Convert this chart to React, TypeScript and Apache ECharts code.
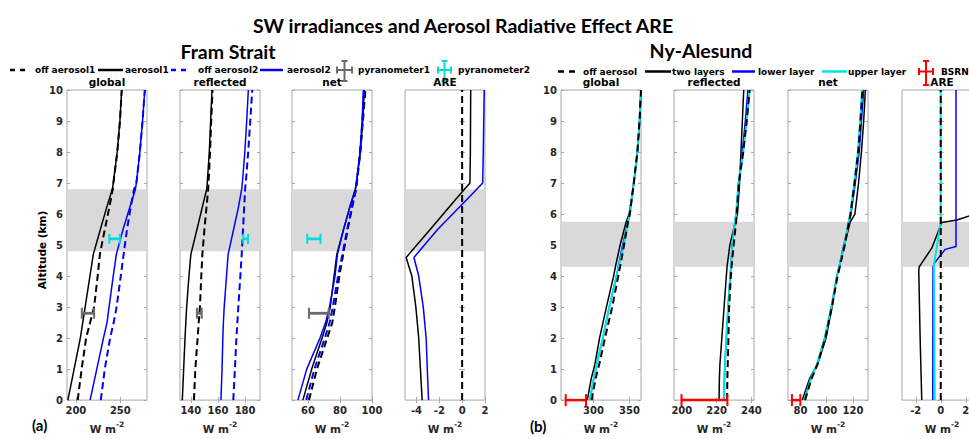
import React, { useEffect, useRef } from "react";
import * as echarts from "echarts";

// ---------- Fram Strait (a) ----------
const ALT_A = [0, 1, 2, 2.5, 3, 4, 4.7, 5.5, 6.2, 6.8, 7, 8, 9, 10];
const GLOBAL_A_AER1 = [191, 198, 205, 207.7, 210.4, 215.8, 219.6, 227.5, 234.5, 241, 242, 246.5, 249.5, 251.5];
const GLOBAL_A_OFF1 = [202, 206.5, 211.5, 216, 220.5, 224.5, 227, 232.5, 237.5, 241.5, 242.2, 246.6, 249.6, 251.6];
const GLOBAL_A_AER2 = [216, 223.5, 231, 235, 237.3, 242, 245.5, 253, 260.5, 267, 268, 272, 275, 277.5];
const GLOBAL_A_OFF2 = [228, 232.5, 238.5, 242.5, 245.8, 250.5, 253.7, 257.5, 261.5, 265.5, 268, 272, 275, 277.5];

const REFL_A_AER1 = [133.7, 134.7, 135.7, 136.3, 136.9, 138.6, 140, 144.5, 148.3, 151.7, 152.1, 153.6, 154.6, 155.6];
const REFL_A_OFF1 = [142.3, 143.3, 145, 145.8, 146.7, 147.7, 148.5, 150, 151.5, 152.8, 153, 154.2, 155, 156];
const REFL_A_AER2 = [162.2, 163, 163.6, 164, 164.6, 166.3, 167.5, 171.5, 175, 177.5, 178, 179.8, 181.2, 182.4];
const REFL_A_OFF2 = [171.3, 172.5, 173.6, 174.3, 175, 176.5, 177.5, 178.5, 179.3, 180, 180.5, 182.3, 183.8, 185.3];

const NET_A_AER1 = [56.8, 62.3, 68.8, 71.8, 73.9, 76.3, 78, 82.2, 86, 89.6, 90.2, 92.8, 94.2, 95.2];
const NET_A_OFF1 = [60.6, 65.6, 72, 75.2, 76.8, 79.6, 82, 84.8, 87.5, 90, 90.5, 92.6, 94.3, 95.9];
const NET_A_AER2 = [53.7, 59.2, 67.5, 71, 73.4, 76.9, 78.4, 82.2, 86, 89.6, 90.2, 92.5, 93.8, 94.6];
const NET_A_OFF2 = [58.9, 64, 70.5, 73.5, 75.5, 78.8, 81.5, 84.5, 87.3, 90, 90.5, 92.6, 94, 95];

const ALT_ARE_A = [0, 1, 2, 3, 4, 4.6, 5.5, 6.5, 7, 8, 10];
const ARE_A_AER1 = [-3.5, -3.65, -3.8, -4.05, -4.4, -4.9, -2.8, -0.5, 0.68, 0.72, 0.75];
const ARE_A_AER2 = [-2.94, -3.05, -3.15, -3.4, -3.8, -4.22, -2.15, 0.5, 1.8, 1.85, 1.93];
const ALT_ARE_OFF = [0, 10];
const ARE_OFF = [0, 0];

const PYRANO1_ALT = 2.8;
const PYRANO1_VALUE = [213.5, 146.3, 66.8];
const PYRANO1_LOW = [206.7, 144.5, 60.6];
const PYRANO1_HIGH = [220.5, 148, 73];
const PYRANO2_ALT = 5.2;
const PYRANO2_VALUE = [243.6, 180.4, 63.7];
const PYRANO2_LOW = [237.6, 178.6, 59.5];
const PYRANO2_HIGH = [249.5, 182.2, 67.8];

const BAND_A = [4.8, 6.8];

// ---------- Ny-Alesund (b) ----------
const ALT_B = [0, 0.7, 1.15, 2, 3, 4, 4.3, 5, 5.75, 6, 7, 8, 9, 10];
const GLOBAL_B_OFF = [297.5, 303, 308, 316, 326, 334.5, 337, 342.5, 348, 350.5, 356, 361, 364, 366];
const GLOBAL_B_TWO = [291.5, 297, 302, 308.5, 318, 328, 330.5, 337, 345.5, 349.5, 356, 361, 364, 366];
const GLOBAL_B_LOWER = [295, 300.5, 304.5, 313, 322, 332, 334.5, 340.5, 348, 350.5, 356, 361, 364, 366];
const GLOBAL_B_UPPER = [295, 300.5, 304.5, 313, 322, 332, 335, 342, 348, 350.5, 356, 361, 364, 366];

const REFL_B_OFF = [226, 226.2, 226.4, 226.8, 227.2, 228.2, 228.6, 229.8, 231.2, 231.6, 232.8, 235.3, 237.3, 239];
const REFL_B_TWO = [221.4, 221.6, 221.9, 223, 224.3, 225.6, 226, 227.6, 230.8, 232, 233.2, 234, 234.8, 235.6];
const REFL_B_LOWER = [224.1, 224.5, 224.8, 225.6, 226.6, 227.8, 228.2, 229, 230.5, 231.2, 232.6, 234.8, 236.5, 238];
const REFL_B_UPPER = [224.1, 224.5, 224.8, 225.6, 226.6, 227.8, 228.2, 229, 230.5, 231.2, 232.6, 235.3, 237.3, 239];

const NET_B_OFF = [83.5, 88.5, 93, 99, 104, 108.3, 110, 113.8, 117, 118.2, 121.2, 124, 125.8, 127.2];
const NET_B_TWO = [81.4, 87, 93, 99.5, 104, 107.8, 109.5, 113.5, 118, 121.5, 124.3, 126.5, 128.2, 129.5];
const NET_B_LOWER = [82.9, 88, 92.6, 98.5, 103.5, 107.8, 109.5, 113, 117.2, 118.5, 121.8, 124.8, 126.5, 128.2];
const NET_B_UPPER = [82.9, 88, 92.6, 98.5, 103.5, 107.8, 109.5, 113.5, 116.7, 118, 121, 123.8, 125.5, 127];

const ALT_ARE_B_TWO = [0, 2, 4.2, 4.3, 4.9, 5.73, 5.81, 5.94, 6.15, 10];
const ARE_B_TWO = [-1.52, -1.65, -1.76, -1.72, -0.72, 0.08, 1.3, 2.3, 4.5, 4.5];
const ALT_ARE_B_LOWER = [0, 4.3, 4.4, 4.86, 4.95, 10];
const ARE_B_LOWER = [-0.64, -0.62, -0.53, 0.35, 1.22, 1.22];
const ALT_ARE_B_UPPER = [0, 4.35, 5.73, 10];
const ARE_B_UPPER = [-0.48, -0.55, 0, 0];

const BSRN_ALT = 0;
const BSRN_VALUE = [275.6, 213, 76.7];
const BSRN_LOW = [261.5, 199.8, 73.5];
const BSRN_HIGH = [289.7, 226.2, 79.9];

const BAND_B = [4.3, 5.75];

// ---------- axes ----------
const X_RANGES = [
  [190, 280], [132, 191], [50, 100], [-5, 2],
  [255, 366], [195.5, 241.5], [70.5, 131.5], [-3.1, 3.3],
];
const X_TICKS = [
  [200, 250], [140, 160, 180], [60, 80, 100], [-4, -2, 0, 2],
  [300, 350], [200, 220, 240], [80, 100, 120], [-2, 0, 2],
];
const PANEL_TITLES = ["global", "reflected", "net", "ARE", "global", "reflected", "net", "ARE"];
const Y_TICKS_MAX = 10;

// ---------- styling ----------
const PANEL_LEFT = [67, 180, 292, 405, 561, 674, 788, 902];
const TOP = 90;
const PW = 80;
const PH = 320;
const FONT = "'DejaVu Sans', sans-serif";
const TFONT = "Lato, 'Open Sans', sans-serif";
const AX = "#a8a8a8";
const LBL = "#262626";
const BLACK = "#000000";
const BLUE = "#0000ff";
const CYAN = "#00e4e4";
const GREY = "#6b6b6b";
const RED = "#ff0000";
const DASH = [7, 4];

type LineDef = { name: string; alt: number[]; vals: number[]; color: string; dashed?: boolean; width?: number };
type ErrDef = { color: string; alt: number; value: number; low: number; high: number; cap: number; width: number };

function buildOption() {
  const la = (name: string, vals: number[], color: string, dashed = false, alt = ALT_A): LineDef => ({
    name, alt, vals, color, dashed, width: dashed ? 2 : 1.5,
  });
  const lb = (name: string, vals: number[], color: string, dashed = false, alt = ALT_B): LineDef => ({
    name, alt, vals, color, dashed, width: dashed ? 2 : color === CYAN ? 2 : 1.5,
  });
  const pyr = (k: number): ErrDef[] => [
    { color: GREY, alt: PYRANO1_ALT, value: PYRANO1_VALUE[k], low: PYRANO1_LOW[k], high: PYRANO1_HIGH[k], cap: 5.5, width: 2.8 },
    { color: "#00dcdc", alt: PYRANO2_ALT, value: PYRANO2_VALUE[k], low: PYRANO2_LOW[k], high: PYRANO2_HIGH[k], cap: 5, width: 2.8 },
  ];
  const bsrn = (k: number): ErrDef[] => [
    { color: RED, alt: BSRN_ALT, value: BSRN_VALUE[k], low: BSRN_LOW[k], high: BSRN_HIGH[k], cap: 6, width: 2.5 },
  ];

  const panelLines: LineDef[][] = [
    [la("aerosol1", GLOBAL_A_AER1, BLACK), la("aerosol2", GLOBAL_A_AER2, BLUE), la("off aerosol1", GLOBAL_A_OFF1, BLACK, true), la("off aerosol2", GLOBAL_A_OFF2, BLUE, true)],
    [la("aerosol1", REFL_A_AER1, BLACK), la("aerosol2", REFL_A_AER2, BLUE), la("off aerosol1", REFL_A_OFF1, BLACK, true), la("off aerosol2", REFL_A_OFF2, BLUE, true)],
    [la("aerosol1", NET_A_AER1, BLACK), la("aerosol2", NET_A_AER2, BLUE), la("off aerosol1", NET_A_OFF1, BLACK, true), la("off aerosol2", NET_A_OFF2, BLUE, true)],
    [la("aerosol1", ARE_A_AER1, BLACK, false, ALT_ARE_A), la("aerosol2", ARE_A_AER2, BLUE, false, ALT_ARE_A), la("off aerosol1", ARE_OFF, BLACK, true, ALT_ARE_OFF)],
    [lb("two layers", GLOBAL_B_TWO, BLACK), lb("lower layer", GLOBAL_B_LOWER, BLUE), lb("upper layer", GLOBAL_B_UPPER, CYAN), lb("off aerosol", GLOBAL_B_OFF, BLACK, true)],
    [lb("two layers", REFL_B_TWO, BLACK), lb("lower layer", REFL_B_LOWER, BLUE), lb("upper layer", REFL_B_UPPER, CYAN), lb("off aerosol", REFL_B_OFF, BLACK, true)],
    [lb("two layers", NET_B_TWO, BLACK), lb("lower layer", NET_B_LOWER, BLUE), lb("upper layer", NET_B_UPPER, CYAN), lb("off aerosol", NET_B_OFF, BLACK, true)],
    [lb("two layers", ARE_B_TWO, BLACK, false, ALT_ARE_B_TWO), lb("lower layer", ARE_B_LOWER, BLUE, false, ALT_ARE_B_LOWER), lb("upper layer", ARE_B_UPPER, CYAN, false, ALT_ARE_B_UPPER), lb("off aerosol", ARE_OFF, BLACK, true, ALT_ARE_OFF)],
  ];
  const panelErrs: ErrDef[][] = [pyr(0), pyr(1), pyr(2), [], bsrn(0), bsrn(1), bsrn(2), []];
  const bands = [BAND_A, BAND_A, BAND_A, BAND_A, BAND_B, BAND_B, BAND_B, BAND_B];

  const grid: any[] = [];
  const xAxis: any[] = [];
  const yAxis: any[] = [];
  const series: any[] = [];
  const tickStyle = { show: true, inside: true, length: 3, lineStyle: { color: AX, width: 1 } };
  const labelStyle = { fontSize: 10, fontWeight: "bold", color: LBL, fontFamily: FONT };

  for (let i = 0; i < 8; i++) {
    const [mn, mx] = X_RANGES[i];
    grid.push({ left: PANEL_LEFT[i], top: TOP, width: PW, height: PH, show: true, borderColor: AX, borderWidth: 1, backgroundColor: "transparent" });
    xAxis.push({
      gridIndex: i, type: "value", position: "bottom", min: mn, max: mx,
      axisLine: { show: false }, splitLine: { show: false },
      axisTick: { ...tickStyle, customValues: X_TICKS[i] },
      axisLabel: { ...labelStyle, margin: 5, customValues: X_TICKS[i] },
      name: "{a|W m}{s|-2}", nameLocation: "middle", nameGap: 15,
      nameTextStyle: {
        rich: {
          a: { fontSize: 10.5, fontWeight: "bold", fontFamily: FONT, color: LBL, lineHeight: 14, verticalAlign: "bottom" },
          s: { fontSize: 7.5, fontWeight: "bold", fontFamily: FONT, color: LBL, lineHeight: 8, verticalAlign: "top" },
        },
      },
    });
    xAxis.push({
      gridIndex: i, type: "value", position: "top", min: mn, max: mx,
      axisLine: { show: false }, splitLine: { show: false },
      axisTick: { ...tickStyle, customValues: X_TICKS[i] },
      axisLabel: { show: false },
    });
    yAxis.push({
      gridIndex: i, type: "value", position: "left", min: 0, max: Y_TICKS_MAX, interval: 1,
      axisLine: { show: false }, splitLine: { show: false }, axisTick: tickStyle,
      axisLabel: { ...labelStyle, show: i === 0 || i === 4, margin: 4 },
    });
    yAxis.push({
      gridIndex: i, type: "value", position: "right", min: 0, max: Y_TICKS_MAX, interval: 1,
      axisLine: { show: false }, splitLine: { show: false }, axisTick: tickStyle,
      axisLabel: { show: false },
    });
    const xi = i * 2;
    const yi = i * 2;
    series.push({
      type: "line", xAxisIndex: xi, yAxisIndex: yi, data: [[mn, 0]], showSymbol: false, symbol: "none",
      lineStyle: { opacity: 0 }, silent: true, z: 1,
      markArea: {
        silent: true, itemStyle: { color: "#d9d9d9" },
        data: [[{ coord: [mn, bands[i][0]] }, { coord: [mx, bands[i][1]] }]],
      },
    });
    panelLines[i].forEach((l) => {
      series.push({
        type: "line", name: l.name, xAxisIndex: xi, yAxisIndex: yi,
        data: l.alt.map((a, k) => [l.vals[k], a]),
        showSymbol: false, symbol: "none", silent: true, z: 3, clip: true,
        lineStyle: { color: l.color, width: l.width, type: l.dashed ? DASH : "solid" },
        itemStyle: { color: l.color },
      });
    });
    const errs = panelErrs[i];
    if (errs.length) {
      series.push({
        type: "custom", xAxisIndex: xi, yAxisIndex: yi, silent: true, z: 5, clip: false,
        data: errs.map((e) => [e.value, e.alt, e.low, e.high]),
        encode: { x: [0, 2, 3], y: 1 },
        renderItem: (params: any, api: any) => {
          const e = errs[params.dataIndex];
          const p1 = api.coord([api.value(2), api.value(1)]);
          const p2 = api.coord([api.value(3), api.value(1)]);
          const y = p1[1];
          const st = { stroke: e.color, lineWidth: e.width };
          const cs = { stroke: e.color, lineWidth: 2 };
          return {
            type: "group",
            children: [
              { type: "line", shape: { x1: p1[0], y1: y, x2: p2[0], y2: y }, style: st },
              { type: "line", shape: { x1: p1[0], y1: y - e.cap, x2: p1[0], y2: y + e.cap }, style: cs },
              { type: "line", shape: { x1: p2[0], y1: y - e.cap, x2: p2[0], y2: y + e.cap }, style: cs },
            ],
          };
        },
      });
    }
  }

  // ---------- graphic: titles, legends, labels ----------
  const txt = (x: number, y: number, text: string, size: number, family: string, align = "left", extra: any = {}) => ({
    type: "text", x, y, silent: true, ...extra,
    style: { text, fontSize: size, fontWeight: "bold", fontFamily: family, fill: "#000", align, verticalAlign: "middle" },
  });
  const seg = (x1: number, x2: number, y: number, color: string, dash?: number[], w = 2.5) => ({
    type: "line", silent: true, shape: { x1, y1: y, x2, y2: y },
    style: { stroke: color, lineWidth: w, lineDash: dash },
  });
  const errIcon = (x1: number, x2: number, y: number, yTop: number, yBot: number, color: string) => {
    const cx = (x1 + x2) / 2;
    const s = { stroke: color, lineWidth: 2 };
    return {
      type: "group", silent: true,
      children: [
        { type: "line", shape: { x1, y1: y, x2, y2: y }, style: s },
        { type: "line", shape: { x1, y1: y - 3.5, x2: x1, y2: y + 3.5 }, style: s },
        { type: "line", shape: { x1: x2, y1: y - 3.5, x2, y2: y + 3.5 }, style: s },
        { type: "line", shape: { x1: cx, y1: yTop, x2: cx, y2: yBot }, style: s },
        { type: "line", shape: { x1: cx - 3, y1: yTop, x2: cx + 3, y2: yTop }, style: s },
        { type: "line", shape: { x1: cx - 3, y1: yBot, x2: cx + 3, y2: yBot }, style: s },
      ],
    };
  };

  const LY_A = 70;
  const LY_B = 71.5;
  const graphic: any[] = [
    txt(463, 25, "SW irradiances and Aerosol Radiative Effect ARE", 19.5, TFONT, "center"),
    txt(228, 51, "Fram Strait", 19.5, TFONT, "center"),
    txt(701, 50, "Ny-Alesund", 19.5, TFONT, "center"),
    // legend (a)
    seg(10, 25, LY_A, BLACK, [5, 5]), txt(35, LY_A, "off aerosol1", 9, FONT),
    seg(98, 123, LY_A, BLACK), txt(125, LY_A, "aerosol1", 9, FONT),
    seg(171, 189, LY_A, BLUE, [5, 5]), txt(198, LY_A, "off aerosol2", 9, FONT),
    seg(260, 283, LY_A, BLUE), txt(287, LY_A, "aerosol2", 9, FONT),
    errIcon(337, 352, LY_A, 61, 81, GREY), txt(358, LY_A, "pyranometer1", 9, FONT),
    errIcon(438, 451, LY_A, 61, 81, "#00dcdc"), txt(458, LY_A, "pyranometer2", 9, FONT),
    // legend (b)
    seg(558, 576, LY_B, BLACK, [6, 5]), txt(583, LY_B, "off aerosol", 9, FONT),
    seg(645, 671, LY_B, BLACK), txt(672, LY_B, "two layers", 9, FONT),
    seg(732, 755, LY_B, BLUE), txt(758, LY_B, "lower layer", 9, FONT),
    seg(822, 847, LY_B, CYAN), txt(848, LY_B, "upper layer", 9, FONT),
    errIcon(919, 933, LY_B, 61, 85, RED), txt(941, LY_B, "BSRN", 9, FONT),
    // axis annotations
    txt(42, 250, "Altitude (km)", 10.5, FONT, "center", { rotation: Math.PI / 2 }),
    txt(32, 425, "(a)", 15, TFONT),
    txt(530, 426, "(b)", 15, TFONT),
  ];
  PANEL_TITLES.forEach((t, i) => graphic.push(txt(PANEL_LEFT[i] + PW / 2, 82, t, 10.5, FONT, "center")));

  return {
    animation: false,
    backgroundColor: "#ffffff",
    grid, xAxis, yAxis, series, graphic,
  };
}

export default function App() {
  const ref = useRef<HTMLDivElement>(null);
  useEffect(() => {
    if (!ref.current) return;
    const chart = echarts.init(ref.current, null, { renderer: "svg" });
    chart.setOption(buildOption() as any);
    return () => chart.dispose();
  }, []);
  return (
    <div style={{ position: "fixed", left: 0, top: 0, width: 969, height: 439, overflow: "hidden", background: "#fff" }}>
      <div ref={ref} style={{ width: 1000, height: 439 }} />
    </div>
  );
}
